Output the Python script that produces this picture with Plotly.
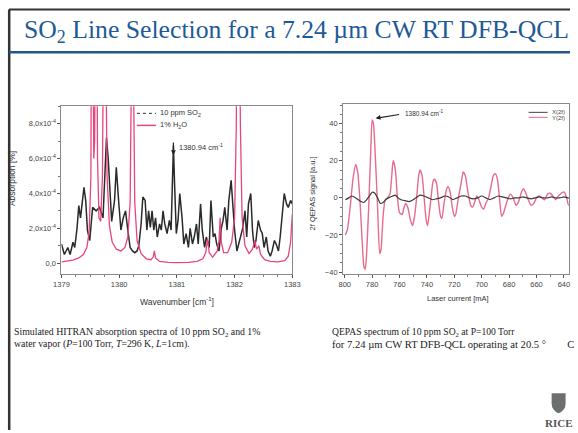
import plotly.graph_objects as go

# ---------------- data ----------------
# Left: simulated HITRAN absorption (units of 1e-4 %)
so2_wn = [1379.00, 1379.05, 1379.11, 1379.15, 1379.20, 1379.23, 1379.27, 1379.30, 1379.33, 1379.36,
          1379.39, 1379.42, 1379.45, 1379.49, 1379.54, 1379.60, 1379.66, 1379.72, 1379.75, 1379.78,
          1379.81, 1379.87, 1379.92, 1379.95, 1379.99, 1380.03, 1380.07, 1380.11, 1380.15, 1380.19,
          1380.23, 1380.27, 1380.31, 1380.34, 1380.38, 1380.41, 1380.45, 1380.48, 1380.51, 1380.54,
          1380.57, 1380.60, 1380.63, 1380.66, 1380.70, 1380.73, 1380.76, 1380.79, 1380.83, 1380.87,
          1380.90, 1380.92, 1380.94, 1380.96, 1380.99, 1381.02, 1381.05, 1381.09, 1381.12, 1381.16,
          1381.20, 1381.23, 1381.27, 1381.30, 1381.34, 1381.37, 1381.41, 1381.44, 1381.48, 1381.51,
          1381.56, 1381.59, 1381.63, 1381.66, 1381.69, 1381.73, 1381.77, 1381.80, 1381.83, 1381.87,
          1381.90, 1381.94, 1381.97, 1382.00, 1382.04, 1382.07, 1382.11, 1382.14, 1382.18, 1382.21,
          1382.24, 1382.28, 1382.31, 1382.34, 1382.37, 1382.41, 1382.45, 1382.48, 1382.51, 1382.55,
          1382.58, 1382.62, 1382.65, 1382.69, 1382.72, 1382.76, 1382.79, 1382.83, 1382.86, 1382.90,
          1382.93, 1382.97, 1383.00]
so2_abs = [1.1, 0.5, 0.9, 0.5, 1.2, 0.9, 2.0, 3.3, 2.6, 3.4,
           4.35, 3.6, 1.9, 1.3, 3.2, 3.0, 3.2, 2.6, 5.5, 7.2,
           6.0, 2.4, 3.6, 5.5, 3.6, 1.9, 2.6, 3.0, 1.9, 0.9,
           0.7, 0.6, 0.7, 1.0, 2.25, 3.8, 3.6, 1.9, 3.0, 2.05,
           3.0, 1.9, 2.6, 1.5, 2.25, 1.9, 3.0, 2.25, 1.7, 2.45,
           1.9, 5.1, 6.75, 4.55, 1.7, 2.45, 4.0, 2.6, 1.1, 1.7,
           0.9, 2.0, 1.1, 1.5, 2.25, 1.1, 3.4, 1.9, 0.9, 1.5,
           0.9, 3.6, 1.5, 1.7, 1.1, 0.7, 2.0, 2.45, 3.2, 1.9,
           3.6, 4.75, 3.0, 1.9, 0.7, 1.1, 1.5, 2.0, 3.0, 1.5,
           3.4, 4.0, 1.9, 0.9, 1.3, 2.45, 1.9, 1.7, 0.9, 1.5,
           0.7, 0.4, 0.7, 1.3, 1.1, 0.7, 1.5, 3.2, 4.0, 3.4,
           3.2, 3.6, 3.4]

h2o_wn = [1379.00, 1379.10, 1379.20, 1379.30, 1379.38, 1379.44, 1379.48, 1379.51, 1379.525, 1379.535,
          1379.545, 1379.56, 1379.575, 1379.59, 1379.60, 1379.61, 1379.625, 1379.65, 1379.68, 1379.71,
          1379.73, 1379.745, 1379.755, 1379.77, 1379.79, 1379.83, 1379.88, 1379.95, 1380.03, 1380.10,
          1380.15, 1380.19, 1380.215, 1380.23, 1380.245, 1380.27, 1380.31, 1380.38, 1380.47, 1380.55,
          1380.59, 1380.61, 1380.63, 1380.70, 1380.85, 1381.00, 1381.20, 1381.35, 1381.45, 1381.50,
          1381.53, 1381.56, 1381.62, 1381.70, 1381.73, 1381.75, 1381.77, 1381.81, 1381.88, 1381.95,
          1382.00, 1382.03, 1382.05, 1382.08, 1382.10, 1382.13, 1382.18, 1382.25, 1382.31, 1382.35,
          1382.38, 1382.42, 1382.45, 1382.52, 1382.62, 1382.75, 1382.87, 1382.93, 1382.97, 1383.00]
h2o_abs = [0.08, 0.12, 0.18, 0.3, 0.5, 0.9, 1.8, 5.0, 14, 30,
           14, 6, 7, 16, 30, 16, 6, 2.6, 2.4, 5,
           14, 30, 30, 12, 5, 2.2, 1.2, 0.8, 0.7, 0.9,
           1.5, 3.5, 12, 30, 12, 3.5, 1.3, 0.55, 0.25, 0.2,
           0.35, 0.7, 0.3, 0.1, 0.05, 0.03, 0.05, 0.1, 0.25, 0.6,
           1.4, 0.6, 0.35, 0.7, 1.3, 2.6, 1.2, 0.6, 0.6, 1.2,
           2.6, 8, 30, 30, 8, 2.6, 1.0, 0.55, 0.8, 1.3,
           0.8, 1.0, 0.5, 0.2, 0.1, 0.08, 0.15, 0.4, 1.2, 2.8]

# Right: QEPAS 2f signal vs laser current
y2f_ma = [799.5, 798, 796, 794, 792, 790.5, 789, 787.5, 786, 785,
          784, 782.5, 781, 780, 779, 777.5, 776, 774.5, 773.5, 772,
          770.5, 769, 767, 765, 764.5, 763, 761.5, 760, 758, 757,
          755.5, 754, 752, 750.5, 749, 747.5, 746, 745, 743.5, 742,
          740.5, 739.5, 738.5, 737, 735.5, 734.5, 733, 731.5, 730, 729,
          727.5, 725.5, 724.5, 723, 721.5, 720, 719, 717, 715, 713.5,
          712, 710, 708, 706.5, 705, 703.5, 702, 700, 698.5, 697,
          695, 693.5, 691.5, 690, 688.5, 687, 685.5, 684, 682, 680,
          679, 677, 675, 673, 671, 669.5, 668, 666, 664, 662,
          660, 658, 656, 654, 652, 650, 648, 646, 644, 641,
          639.5, 638, 636.5, 634, 632]
y2f_sig = [-20, -17, -5, 10, 18, 14, 0, -20, -37, -38.5,
           -30, -5, 25, 42, 40, 20, -5, -30, -28, -10,
           -1, 0, 2, 18, 20, 15, 0, -8, -9, -6,
           -3, -5, -12, -15, -10, 0, 12, 15, 12, 0,
           -12, -15, -10, 0, 9, 10, 8, -2, -10, -11,
           -3, 5, 6, 3, -5, -10, -9, 0, 8, 14,
           12, 3, -4, -5, -2, 1, -1, -5, -6, -3,
           0, 5, 12, 13, 10, 0, -10, -8, -3, 1,
           2, 0, -4, -2, 3, 5, 3, -1, -4, -3,
           0, 1, 0, -1, 2, 2.5, 1, -1, 1, 3,
           3, 0, -4, -2, -5]

x2f_ma = [799.5, 797, 795, 793, 790, 788, 786, 784, 782, 780,
          778, 776, 774, 772, 770, 768, 765, 763, 761, 759,
          756, 753, 750, 748, 745, 742, 739, 736, 733, 730,
          727, 724, 721, 718, 715, 712, 709, 706, 703, 700,
          697, 694, 691, 688, 685, 682, 679, 676, 673, 670,
          667, 664, 661, 658, 655, 652, 649, 646, 643, 640,
          637, 634, 632]
x2f_sig = [-1, 0, 1, 0.5, -1, -2, -2.5, -1, 1, 3,
           2.5, 0, -3, -2.5, -1, 0, 1, 1.5, 0, -1,
           -1.5, -2, -1, 0, 1.5, 1, 0, -1, -0.5, 0,
           1, 0.5, -1, 0, 1, 1, 0, -0.5, 0, 1,
           0, -1, 0, 1, 0.5, 0, -0.5, 0, 0, 0.5,
           0, -0.5, 0, 0.5, 0, 0, 0.5, 0, 0, 0.5,
           0, -0.5, 0]

left_ytickvals = [0, 2, 4, 6, 8]
left_yticktext = ["0,0", "2,0x10<sup>-4</sup>", "4,0x10<sup>-4</sup>", "6,0x10<sup>-4</sup>", "8,0x10<sup>-4</sup>"]
left_xtickvals = [1379, 1380, 1381, 1382, 1383]
right_xtickvals = [800, 780, 760, 740, 720, 700, 680, 660, 640]
right_ytickvals = [-40, -20, 0, 20, 40]

# ---------------- figure ----------------
W, H = 578, 433
# target picture position -> paper fraction (calibrated from earlier renders of this page)
SX, OX, SY = 0.973, 8.0, 0.99
def px(x):
    return ((x - OX) / SX) / W
def py(y):
    return 1 - (y / SY) / H

BLACK = "#2a2a2a"
PINK = "#e8457a"
PINK2 = "#e86a8c"
TICKFONT = dict(family="Arial, Liberation Sans, sans-serif", size=7.5, color="#444")

fig = go.Figure()
fig.add_trace(go.Scatter(x=so2_wn, y=so2_abs, mode="lines", line=dict(color=BLACK, width=1.5),
                         xaxis="x", yaxis="y", showlegend=False))
fig.add_trace(go.Scatter(x=h2o_wn, y=h2o_abs, mode="lines", line=dict(color=PINK, width=1.3),
                         xaxis="x", yaxis="y", showlegend=False))
fig.add_trace(go.Scatter(x=y2f_ma, y=y2f_sig, mode="lines", line=dict(color=PINK2, width=1.4, shape="spline", smoothing=0.5),
                         xaxis="x2", yaxis="y2", showlegend=False))
fig.add_trace(go.Scatter(x=x2f_ma, y=x2f_sig, mode="lines", line=dict(color="#3a3a3a", width=1.2, shape="spline", smoothing=0.5),
                         xaxis="x2", yaxis="y2", showlegend=False))

axcommon = dict(showgrid=False, zeroline=False, showline=True, linecolor="#8a8a8a", linewidth=1,
                mirror=True, ticks="outside", ticklen=3, tickcolor="#555", tickfont=TICKFONT)

fig.update_layout(
    width=W, height=H, margin=dict(l=0, r=0, t=0, b=0),
    paper_bgcolor="white", plot_bgcolor="white",
    xaxis=dict(domain=[px(61.5), px(292.5)], range=[1379, 1383], anchor="y",
               tickvals=left_xtickvals, minor=dict(ticks="outside", ticklen=2, dtick=0.25, tickcolor="#777"),
               **axcommon),
    yaxis=dict(domain=[py(273.3), py(106)], range=[-0.63, 9.0], anchor="x",
               tickvals=left_ytickvals, ticktext=left_yticktext,
               minor=dict(ticks="outside", ticklen=2, dtick=1, tickcolor="#777"),
               **axcommon),
    xaxis2=dict(domain=[px(343.3), px(569.2)], range=[801.2, 636.4], anchor="y2",
                tickvals=right_xtickvals, minor=dict(ticks="outside", ticklen=2, dtick=10, tickcolor="#777"),
                **axcommon),
    yaxis2=dict(domain=[py(273.3), py(104)], range=[-41.1, 50.4], anchor="x2",
                tickvals=right_ytickvals, minor=dict(ticks="outside", ticklen=2, dtick=5, tickcolor="#777"),
                **axcommon),
)

shapes = []
# slide frame
shapes.append(dict(type="line", xref="paper", yref="paper", x0=px(9), x1=1, y0=py(9.5), y1=py(9.5),
                   line=dict(color="#333", width=2)))
shapes.append(dict(type="line", xref="paper", yref="paper", x0=px(9.2), x1=px(9.2), y0=py(9.5), y1=0,
                   line=dict(color="#333", width=2.5)))
shapes.append(dict(type="line", xref="paper", yref="paper", x0=px(9), x1=1, y0=py(52), y1=py(52),
                   line=dict(color="#24568c", width=2.5)))
# legend samples (left)
shapes.append(dict(type="line", xref="paper", yref="paper", x0=px(137), x1=px(156), y0=py(113), y1=py(113),
                   line=dict(color=BLACK, width=1, dash="dot")))
shapes.append(dict(type="line", xref="paper", yref="paper", x0=px(137), x1=px(156), y0=py(125), y1=py(125),
                   line=dict(color=PINK, width=1.5)))
# legend samples (right)
shapes.append(dict(type="line", xref="paper", yref="paper", x0=px(529), x1=px(548), y0=py(112), y1=py(112),
                   line=dict(color="#444", width=1)))
shapes.append(dict(type="line", xref="paper", yref="paper", x0=px(529), x1=px(548), y0=py(117), y1=py(117),
                   line=dict(color=PINK2, width=1)))
# RICE shield logo
shapes.append(dict(type="path", xref="paper", yref="paper",
                   path=f"M {px(552)},{py(392)} L {px(566)},{py(392)} L {px(566)},{py(402)} Q {px(566)},{py(409)} {px(559)},{py(412)} Q {px(552)},{py(409)} {px(552)},{py(402)} Z",
                   fillcolor="#6b6f70", line=dict(width=0)))
fig.update_layout(shapes=shapes)

ann = []
ann.append(dict(xref="paper", yref="paper", x=px(296.5), y=py(31), xanchor="center", yanchor="middle",
                text="SO<sub>2</sub> Line Selection for a 7.24 µm CW RT DFB-QCL", showarrow=False,
                font=dict(family="Liberation Serif, Times New Roman, serif", size=25.7, color="#1d5a96")))
# left legend text
ann.append(dict(xref="paper", yref="paper", x=px(158), y=py(113), xanchor="left", yanchor="middle",
                text="10 ppm SO<sub>2</sub>", showarrow=False, font=dict(family="Arial", size=7.5, color="#333")))
ann.append(dict(xref="paper", yref="paper", x=px(158), y=py(125), xanchor="left", yanchor="middle",
                text="1% H<sub>2</sub>O", showarrow=False, font=dict(family="Arial", size=7.5, color="#333")))
# right legend text
ann.append(dict(xref="paper", yref="paper", x=px(550), y=py(112), xanchor="left", yanchor="middle",
                text="X(2f)", showarrow=False, font=dict(family="Arial", size=6, color="#444")))
ann.append(dict(xref="paper", yref="paper", x=px(550), y=py(117.5), xanchor="left", yanchor="middle",
                text="Y(2f)", showarrow=False, font=dict(family="Arial", size=6, color="#444")))
# peak annotations
ann.append(dict(xref="x", yref="y", x=1380.94, y=6.2, ax=0, ay=-14, text="", showarrow=True,
                arrowhead=2, arrowsize=0.8, arrowwidth=1.2, arrowcolor="#222"))
ann.append(dict(xref="paper", yref="paper", x=px(177), y=py(147), xanchor="left", yanchor="middle",
                text="1380.94 cm<sup>-1</sup>", showarrow=False, font=dict(family="Arial", size=7.5, color="#333")))
ann.append(dict(xref="x2", yref="y2", x=777.4, y=42.9, ax=25, ay=-4, text="", showarrow=True,
                arrowhead=2, arrowsize=0.8, arrowwidth=1.2, arrowcolor="#222"))
ann.append(dict(xref="paper", yref="paper", x=px(403), y=py(113), xanchor="left", yanchor="middle",
                text="1380.94 cm<sup>-1</sup>", showarrow=False, font=dict(family="Arial", size=6.5, color="#333")))
# axis titles
ann.append(dict(xref="paper", yref="paper", x=px(177), y=py(301), xanchor="center", yanchor="middle",
                text="Wavenumber [cm<sup>-1</sup>]", showarrow=False, font=dict(family="Arial", size=8.5, color="#333")))
ann.append(dict(xref="paper", yref="paper", x=px(11.5), y=py(178), xanchor="center", yanchor="middle", textangle=-90,
                text="Absorption [%]", showarrow=False, font=dict(family="Arial", size=8.5, color="#333")))
ann.append(dict(xref="paper", yref="paper", x=px(458), y=py(298), xanchor="center", yanchor="middle",
                text="Laser current [mA]", showarrow=False, font=dict(family="Arial", size=7.5, color="#333")))
ann.append(dict(xref="paper", yref="paper", x=px(313), y=py(193), xanchor="center", yanchor="middle", textangle=-90,
                text="2f QEPAS signal [a.u.]", showarrow=False, font=dict(family="Arial", size=7.5, color="#333")))
# captions
CAPL = dict(family="Liberation Serif, Times New Roman, serif", size=9.8, color="#222")
CAPR = dict(family="Liberation Serif, Times New Roman, serif", size=9.6, color="#222")
ann.append(dict(xref="paper", yref="paper", x=px(12), y=py(331), xanchor="left", yanchor="middle",
                text="Simulated HITRAN absorption spectra of 10 ppm SO<sub>2</sub> and 1%", showarrow=False, font=CAPL))
ann.append(dict(xref="paper", yref="paper", x=px(12), y=py(343), xanchor="left", yanchor="middle",
                text="water vapor (<i>P</i>=100 Torr, <i>T</i>=296 K, <i>L</i>=1cm).", showarrow=False, font=CAPL))
ann.append(dict(xref="paper", yref="paper", x=px(330), y=py(331), xanchor="left", yanchor="middle",
                text="QEPAS spectrum of 10 ppm SO<sub>2</sub> at P=100 Torr", showarrow=False, font=CAPR))
ann.append(dict(xref="paper", yref="paper", x=px(330), y=py(343), xanchor="left", yanchor="middle",
                text="for 7.24 µm CW RT DFB-QCL operating at 20.5&nbsp;°&nbsp;&nbsp;&nbsp;&nbsp;&nbsp;&nbsp;&nbsp;&nbsp;C", showarrow=False,
                font=dict(family="Liberation Serif, Times New Roman, serif", size=10.6, color="#222")))
# RICE wordmark
ann.append(dict(xref="paper", yref="paper", x=px(559), y=py(422), xanchor="center", yanchor="middle",
                text="<b>RICE</b>", showarrow=False,
                font=dict(family="Liberation Serif, Times New Roman, serif", size=11, color="#555")))
fig.update_layout(annotations=ann)

fig.write_html("out.html")
